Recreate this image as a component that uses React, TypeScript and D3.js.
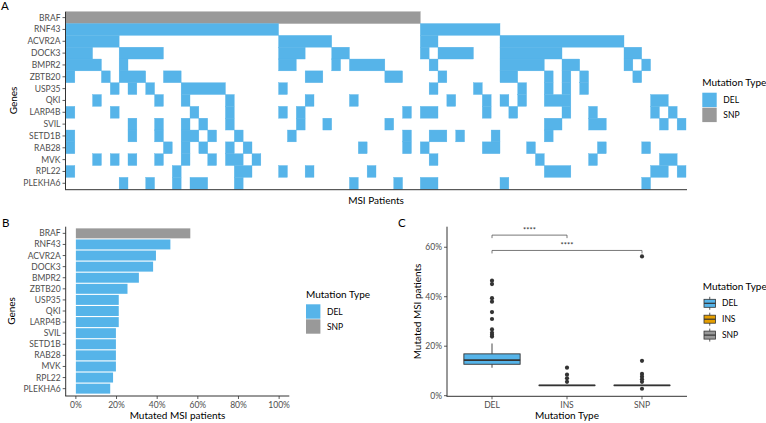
import React from "react";
import * as d3 from "d3";

// ---------- DATA ----------
const genes = ["BRAF", "RNF43", "ACVR2A", "DOCK3", "BMPR2", "ZBTB20", "USP35", "QKI", "LARP4B", "SVIL", "SETD1B", "RAB28", "MVK", "RPL22", "PLEKHA6"];
const geneType = ["SNP", "DEL", "DEL", "DEL", "DEL", "DEL", "DEL", "DEL", "DEL", "DEL", "DEL", "DEL", "DEL", "DEL", "DEL"];
const nPatients = 70;
// mutated patient columns (0-based), as [from, to] runs, one list per gene (same order as genes)
const mutBRAF = [[0, 39]];
const mutRNF43 = [[0, 23], [40, 48]];
const mutACVR2A = [[0, 5], [24, 29], [40, 41], [49, 62]];
const mutDOCK3 = [[0, 2], [6, 10], [24, 26], [30, 31], [40, 40], [42, 45], [49, 55], [63, 64]];
const mutBMPR2 = [[0, 3], [6, 6], [24, 25], [30, 30], [32, 35], [41, 41], [49, 53], [56, 57], [63, 63], [65, 65]];
const mutZBTB20 = [[0, 0], [4, 4], [6, 8], [11, 12], [27, 28], [36, 37], [42, 42], [49, 50], [54, 54], [56, 56], [58, 58], [64, 64]];
const mutUSP35 = [[5, 5], [7, 7], [9, 9], [13, 17], [24, 24], [41, 41], [46, 46], [51, 51], [54, 54], [56, 56], [58, 58]];
const mutQKI = [[3, 3], [10, 10], [13, 13], [18, 18], [27, 27], [32, 32], [43, 43], [47, 47], [49, 49], [51, 51], [54, 56], [66, 67]];
const mutLARP4B = [[0, 0], [5, 5], [14, 14], [18, 18], [24, 24], [26, 26], [38, 38], [40, 41], [47, 47], [50, 50], [56, 56], [59, 59], [66, 66], [68, 68]];
const mutSVIL = [[7, 7], [10, 10], [13, 13], [15, 15], [18, 18], [26, 26], [29, 29], [36, 36], [54, 55], [59, 60], [67, 67], [69, 69]];
const mutSETD1B = [[0, 0], [7, 7], [10, 10], [13, 14], [16, 16], [19, 19], [25, 25], [38, 38], [41, 42], [44, 44], [48, 48], [54, 54]];
const mutRAB28 = [[0, 0], [11, 11], [13, 13], [15, 15], [18, 18], [20, 20], [33, 33], [38, 38], [40, 40], [47, 48], [52, 52], [60, 60], [65, 65]];
const mutMVK = [[3, 3], [5, 5], [7, 7], [10, 10], [13, 13], [16, 16], [18, 19], [21, 21], [41, 41], [53, 53], [59, 59], [67, 68]];
const mutRPL22 = [[0, 0], [12, 12], [19, 20], [24, 24], [27, 27], [34, 34], [54, 56], [66, 67], [69, 69]];
const mutPLEKHA6 = [[6, 6], [9, 9], [12, 12], [14, 15], [19, 19], [32, 32], [37, 37], [40, 41], [49, 49], [65, 65]];
const mutations = [mutBRAF, mutRNF43, mutACVR2A, mutDOCK3, mutBMPR2, mutZBTB20, mutUSP35, mutQKI, mutLARP4B, mutSVIL, mutSETD1B, mutRAB28, mutMVK, mutRPL22, mutPLEKHA6];

// Panel B: % of MSI patients mutated
const barPct = [56.3, 46.5, 39.4, 38.0, 31.0, 25.4, 21.1, 21.1, 21.1, 19.7, 19.7, 19.7, 19.7, 18.3, 16.9];
const barTicks = [0, 20, 40, 60, 80, 100];

// Panel C: boxplot summary per mutation type
const boxTypes = ["DEL", "INS", "SNP"];
const boxQ1 = [12.7, 4.2, 4.2];
const boxMedian = [14.4, 4.2, 4.2];
const boxQ3 = [16.9, 4.2, 4.2];
const boxLow = [11.3, 4.2, 4.2];
const boxHigh = [21.1, 4.2, 4.2];
const outDEL = [46.5, 45.1, 39.4, 38.0, 33.8, 31.0, 26.8, 25.4, 24.6, 23.9];
const outINS = [11.3, 8.5, 7.0, 5.6];
const outSNP = [56.3, 14.1, 8.8, 7.7, 6.6, 5.6, 2.8];
const outliers = [outDEL, outINS, outSNP];
const boxTicks = [0, 20, 40, 60];
const brackets = [
  { from: "DEL", to: "INS", y: 64.9, label: "****" },
  { from: "DEL", to: "SNP", y: 58.7, label: "****" },
];

const typeColor: Record<string, string> = { DEL: "#56B4E9", INS: "#E69F00", SNP: "#999999" };

const FONT = "Lato, 'Open Sans', sans-serif";
const TICK = "#4D4D4D";
const AXIS = "#333333";

export default function App() {
  // ---------- Panel A ----------
  const ax = d3.scaleLinear().domain([0, nPatients]).range([66, 686]);
  const ay = d3.scaleBand<string>().domain(genes).range([11.7, 189.2]);
  const runs: { g: string; t: string; a: number; b: number }[] = [];
  mutations.forEach((rs, gi) => {
    rs.forEach(([a, b]) => runs.push({ g: genes[gi], t: geneType[gi], a, b }));
  });

  // ---------- Panel B ----------
  const bx = d3.scaleLinear().domain([-5, 105]).range([65.7, 289.3]);
  const by = d3.scaleLinear().domain([0.4, genes.length + 0.6]).range([226.7, 395.3]);
  const bStep = by(2) - by(1);

  // ---------- Panel C ----------
  const cx = d3.scaleLinear().domain([0.4, 3.6]).range([447, 687]);
  const cy = d3.scaleLinear().domain([-0.25, 68.3]).range([396.3, 226.7]);
  const catX = (t: string) => cx(boxTypes.indexOf(t) + 1);
  const boxW = cx(0.75) - cx(0);

  return (
    <svg width={766} height={423} style={{ position: "absolute", left: 0, top: 0, fontFamily: FONT }}>
      <rect width={766} height={423} fill="#fff" />
      {/* Panel letters */}
      <text x={1} y={10} fontSize={11.5}>A</text>
      <text x={2} y={227} fontSize={11.5}>B</text>
      <text x={398} y={227} fontSize={11.5}>C</text>

      {/* ===== Panel A ===== */}
      {runs.map((d, i) => (
        <rect key={i} x={ax(d.a)} y={ay(d.g)!} width={ax(d.b + 1) - ax(d.a)} height={ay.bandwidth()} fill={typeColor[d.t]} stroke={typeColor[d.t]} strokeWidth={0.35} />
      ))}
      <line x1={65.5} x2={65.5} y1={ay.range()[0]} y2={189.7} stroke={AXIS} strokeWidth={1} />
      <line x1={65} x2={687} y1={189.7} y2={189.7} stroke={AXIS} strokeWidth={1} />
      {genes.map((g) => {
        const yc = ay(g)! + ay.bandwidth() / 2;
        return (
          <g key={g}>
            <line x1={62.5} x2={65.5} y1={yc} y2={yc} stroke={AXIS} strokeWidth={0.8} />
            <text x={60.5} y={yc + 3} fontSize={8.5} fill={TICK} textAnchor="end">{g}</text>
          </g>
        );
      })}
      <text transform={`translate(17,${(ay.range()[0] + 189.2) / 2}) rotate(-90)`} fontSize={10} textAnchor="middle">Genes</text>
      <text x={(66 + 686) / 2} y={203.5} fontSize={10} textAnchor="middle">MSI Patients</text>
      {/* legend A */}
      <text x={702.3} y={86.3} fontSize={10}>Mutation Type</text>
      {["DEL", "SNP"].map((t, i) => (
        <g key={t}>
          <rect x={702.3} y={92.7 + i * 15} width={14.4} height={14.4} fill={typeColor[t]} />
          <text x={723.3} y={103 + i * 15} fontSize={8.5} fill="#000">{t}</text>
        </g>
      ))}

      {/* ===== Panel B ===== */}
      {genes.map((g, i) => (
        <rect key={g} x={bx(0)} y={by(i + 1) - 0.45 * bStep} width={bx(barPct[i]) - bx(0)} height={0.9 * bStep} fill={typeColor[geneType[i]]} />
      ))}
      <line x1={65.7} x2={65.7} y1={226.7} y2={396} stroke={AXIS} strokeWidth={1} />
      <line x1={65.2} x2={289.3} y1={396} y2={396} stroke={AXIS} strokeWidth={1} />
      {genes.map((g, i) => (
        <g key={g}>
          <line x1={62.7} x2={65.7} y1={by(i + 1)} y2={by(i + 1)} stroke={AXIS} strokeWidth={0.8} />
          <text x={60.7} y={by(i + 1) + 3} fontSize={8.5} fill={TICK} textAnchor="end">{g}</text>
        </g>
      ))}
      {barTicks.map((t) => (
        <g key={t}>
          <line x1={bx(t)} x2={bx(t)} y1={396} y2={399} stroke={AXIS} strokeWidth={0.8} />
          <text x={bx(t)} y={408} fontSize={8.5} fill={TICK} textAnchor="middle">{t + "%"}</text>
        </g>
      ))}
      <text transform={`translate(15,${(226.7 + 395.3) / 2}) rotate(-90)`} fontSize={10} textAnchor="middle">Genes</text>
      <text x={(65.7 + 289.3) / 2} y={419} fontSize={10} textAnchor="middle">Mutated MSI patients</text>
      {/* legend B */}
      <text x={306} y={297.5} fontSize={10}>Mutation Type</text>
      {["DEL", "SNP"].map((t, i) => (
        <g key={t}>
          <rect x={306} y={304.3 + i * 15} width={14.4} height={14.4} fill={typeColor[t]} />
          <text x={327} y={314.6 + i * 15} fontSize={8.5} fill="#000">{t}</text>
        </g>
      ))}

      {/* ===== Panel C ===== */}
      {boxTypes.map((t, i) => {
        const xc = cx(i + 1);
        return (
          <g key={t}>
            <line x1={xc} x2={xc} y1={cy(boxQ3[i])} y2={cy(boxHigh[i])} stroke={AXIS} strokeWidth={0.9} />
            <line x1={xc} x2={xc} y1={cy(boxQ1[i])} y2={cy(boxLow[i])} stroke={AXIS} strokeWidth={0.9} />
            <rect x={xc - boxW / 2} y={cy(boxQ3[i])} width={boxW} height={Math.max(0.01, cy(boxQ1[i]) - cy(boxQ3[i]))} fill={typeColor[t]} stroke={AXIS} strokeWidth={0.9} />
            <line x1={xc - boxW / 2} x2={xc + boxW / 2} y1={cy(boxMedian[i])} y2={cy(boxMedian[i])} stroke={AXIS} strokeWidth={1.8} />
            {outliers[i].map((v, j) => (
              <circle key={j} cx={xc} cy={cy(v)} r={2.1} fill={AXIS} />
            ))}
          </g>
        );
      })}
      {brackets.map((b, i) => {
        const x1 = catX(b.from), x2 = catX(b.to), yb = cy(b.y);
        return (
          <g key={i}>
            <path d={`M${x1},${yb + 3} V${yb} H${x2} V${yb + 3}`} fill="none" stroke="#555" strokeWidth={0.8} />
            <text x={(x1 + x2) / 2} y={yb - 2} fontSize={7.5} fill="#333" textAnchor="middle">{b.label}</text>
          </g>
        );
      })}
      <line x1={447} x2={447} y1={226.7} y2={396.3} stroke={AXIS} strokeWidth={1} />
      <line x1={446.5} x2={687} y1={396.3} y2={396.3} stroke={AXIS} strokeWidth={1} />
      {boxTicks.map((t) => (
        <g key={t}>
          <line x1={444} x2={447} y1={cy(t)} y2={cy(t)} stroke={AXIS} strokeWidth={0.8} />
          <text x={442} y={cy(t) + 3} fontSize={8.5} fill={TICK} textAnchor="end">{t + "%"}</text>
        </g>
      ))}
      {boxTypes.map((t) => (
        <g key={t}>
          <line x1={catX(t)} x2={catX(t)} y1={396.3} y2={399.3} stroke={AXIS} strokeWidth={0.8} />
          <text x={catX(t)} y={408} fontSize={8.5} fill={TICK} textAnchor="middle">{t}</text>
        </g>
      ))}
      <text transform={`translate(421,${(226.7 + 396.3) / 2}) rotate(-90)`} fontSize={10} textAnchor="middle">Mutated MSI patients</text>
      <text x={(447 + 687) / 2} y={419} fontSize={10} textAnchor="middle">Mutation Type</text>
      {/* legend C */}
      <text x={702.7} y={290} fontSize={10}>Mutation Type</text>
      {boxTypes.map((t, i) => {
        const yc = 303.3 + i * 15.9;
        const kx = 704, kw = 11.5;
        return (
          <g key={t}>
            <line x1={kx + kw / 2} x2={kx + kw / 2} y1={yc - 6.5} y2={yc + 6.5} stroke={AXIS} strokeWidth={0.8} />
            <rect x={kx} y={yc - 4} width={kw} height={8} fill={typeColor[t]} stroke={AXIS} strokeWidth={0.8} />
            <line x1={kx} x2={kx + kw} y1={yc} y2={yc} stroke={AXIS} strokeWidth={1.2} />
            <text x={722} y={yc + 3} fontSize={8.5} fill="#000">{t}</text>
          </g>
        );
      })}
    </svg>
  );
}
